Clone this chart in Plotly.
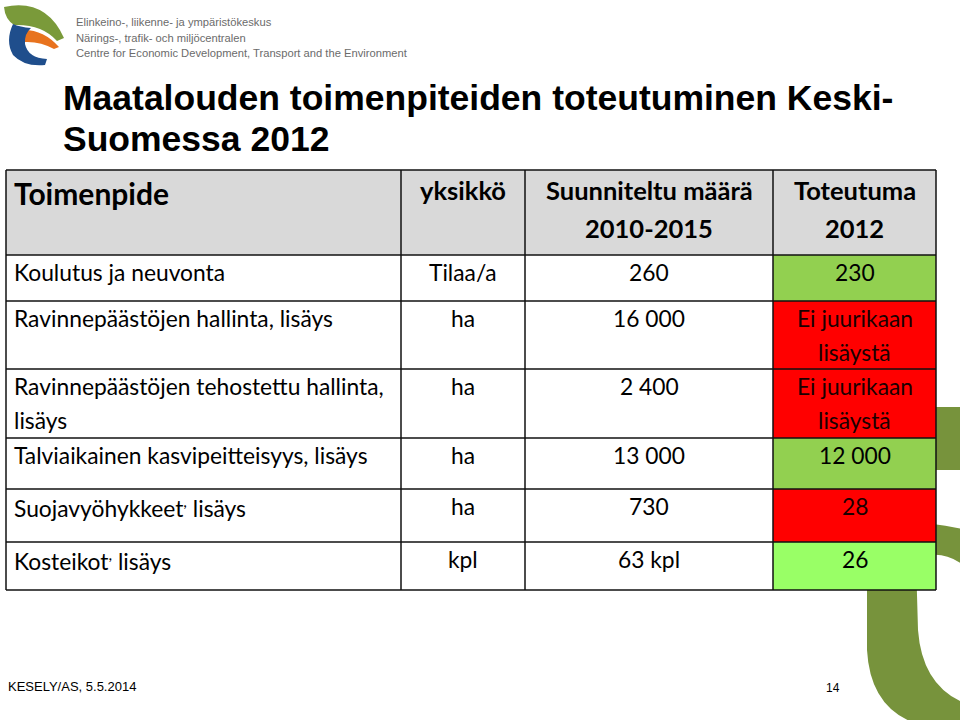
import plotly.graph_objects as go

# slide content
title_lines = ["Maatalouden toimenpiteiden toteutuminen Keski-", "Suomessa 2012"]
org_lines = ["Elinkeino-, liikenne- ja ympäristökeskus",
             "Närings-, trafik- och miljöcentralen",
             "Centre for Economic Development, Transport and the Environment"]

header = ["Toimenpide", "yksikkö", "Suunniteltu määrä\n2010-2015", "Toteutuma\n2012"]
toimenpide = ["Koulutus ja neuvonta",
              "Ravinnepäästöjen hallinta, lisäys",
              "Ravinnepäästöjen tehostettu hallinta,\nlisäys",
              "Talviaikainen kasvipeitteisyys, lisäys",
              "Suojavyöhykkeet<sup>,</sup> lisäys",
              "Kosteikot<sup>,</sup> lisäys"]
yksikko = ["Tilaa/a", "ha", "ha", "ha", "ha", "kpl"]
suunniteltu = ["260", "16 000", "2 400", "13 000", "730", "63 kpl"]
toteutuma = ["230", "Ei juurikaan\nlisäystä", "Ei juurikaan\nlisäystä", "12 000", "28", "26"]
toteutuma_vari = ["#92d050", "#ff0000", "#ff0000", "#92d050", "#ff0000", "#99ff66"]
footer_left = "KESELY/AS, 5.5.2014"
page_no = "14"

# table grid (slide pixels)
col_x = [6, 401, 525, 773, 936]
row_y = [170, 255, 301, 369, 438, 489, 542, 590]

BODY = "Lato, Carlito, Calibri, sans-serif"
TITLE = "Liberation Sans, Arial, sans-serif"
ARIAL = "Liberation Sans, Arial, sans-serif"
OLIVE = "#77933c"

fig = go.Figure()
shapes = []
ann = []


def text(x, y, s, size, font=BODY, color="#000", anchor="left", bold=False):
    if bold:
        s = "<b>" + s + "</b>"
    ann.append(dict(x=x, y=y, xref="x", yref="y", text=s, showarrow=False,
                    xanchor=anchor, yanchor="middle",
                    font=dict(family=font, size=size, color=color)))


# big decorative logo fragment, right edge (sits behind the table)
shapes.append(dict(type="path", layer="below", fillcolor=OLIVE, line=dict(width=0),
                   path="M 900 407 L 962 407 L 962 470 L 900 470 Z"))
shapes.append(dict(type="path", layer="below", fillcolor=OLIVE, line=dict(width=0),
                   path="M 867 525 L 867 650 Q 870 705 912 722 L 962 722 L 962 702 "
                        "Q 922 684 918 630 L 916 560 Q 938 548 962 564 L 962 529 "
                        "Q 912 518 867 525 Z"))

# small logo, top left
shapes.append(dict(type="path", fillcolor="#7a9a3a", line=dict(width=0),
                   path="M 4 7 Q 46 -2 64 38 L 57 41 Q 42 24 14 25 Q 5 19 4 7 Z"))
shapes.append(dict(type="path", fillcolor="#e8731e", line=dict(width=0),
                   path="M 22 30 Q 43 29 59 47 L 54 49 Q 40 41 24 42 Z"))
shapes.append(dict(type="path", fillcolor="#1f4e8c", line=dict(width=0),
                   path="M 13 24 Q 5 41 13 55 Q 24 67 45 65 L 47 59 Q 28 58 25 44 "
                        "Q 24 34 31 28 Q 20 27 13 24 Z"))

for i, s in enumerate(org_lines):
    text(74, 22 + i * 15.5, s, 11.2, ARIAL, "#6b6b6b")

for i, s in enumerate(title_lines):
    text(61, 98 + i * 41, s, 35.5, TITLE, "#000", bold=True)

# header row
shapes.append(dict(type="rect", x0=col_x[0], x1=col_x[-1], y0=row_y[0], y1=row_y[1],
                   fillcolor="#d9d9d9", line=dict(width=0)))
for c, h in enumerate(header):
    lines = h.split("\n")
    for k, s in enumerate(lines):
        if c == 0:
            text(col_x[0] + 6, 193, s, 30, BODY, bold=True)
        else:
            text((col_x[c] + col_x[c + 1]) / 2, 190 + k * 38, s, 25.5, BODY,
                 anchor="center", bold=True)

# body rows
for r in range(len(toimenpide)):
    y0, y1 = row_y[r + 1], row_y[r + 2]
    fills = ["#ffffff", "#ffffff", "#ffffff", toteutuma_vari[r]]
    for c in range(4):
        shapes.append(dict(type="rect", x0=col_x[c], x1=col_x[c + 1], y0=y0, y1=y1,
                           fillcolor=fills[c], line=dict(width=0)))
    cells = [toimenpide[r], yksikko[r], suunniteltu[r], toteutuma[r]]
    for c, cell in enumerate(cells):
        col = "#1a0000" if toteutuma_vari[r] == "#ff0000" and c == 3 else "#000"
        for k, s in enumerate(cell.split("\n")):
            yy = y0 + 17 + k * 34
            if c == 0:
                text(col_x[0] + 6, yy, s, 22.8, BODY)
            else:
                text((col_x[c] + col_x[c + 1]) / 2, yy, s, 22.8, BODY, col, "center")

# grid lines
for y in row_y:
    shapes.append(dict(type="line", x0=col_x[0], x1=col_x[-1], y0=y, y1=y,
                       line=dict(color="#111", width=1.5)))
for x in col_x:
    shapes.append(dict(type="line", x0=x, x1=x, y0=row_y[0], y1=row_y[-1],
                       line=dict(color="#111", width=1.5)))

text(6, 686, footer_left, 13, ARIAL)
text(833, 688, page_no, 12, ARIAL, anchor="center")

fig.update_layout(
    width=960, height=720,
    margin=dict(l=0, r=0, t=0, b=0),
    paper_bgcolor="white", plot_bgcolor="white",
    xaxis=dict(range=[0, 960], visible=False, fixedrange=True),
    yaxis=dict(range=[720, 0], visible=False, fixedrange=True),
    shapes=shapes, annotations=ann, showlegend=False,
)

fig.write_html("out.html", config={"displayModeBar": False},
               post_script="document.body.style.margin='0px';")
